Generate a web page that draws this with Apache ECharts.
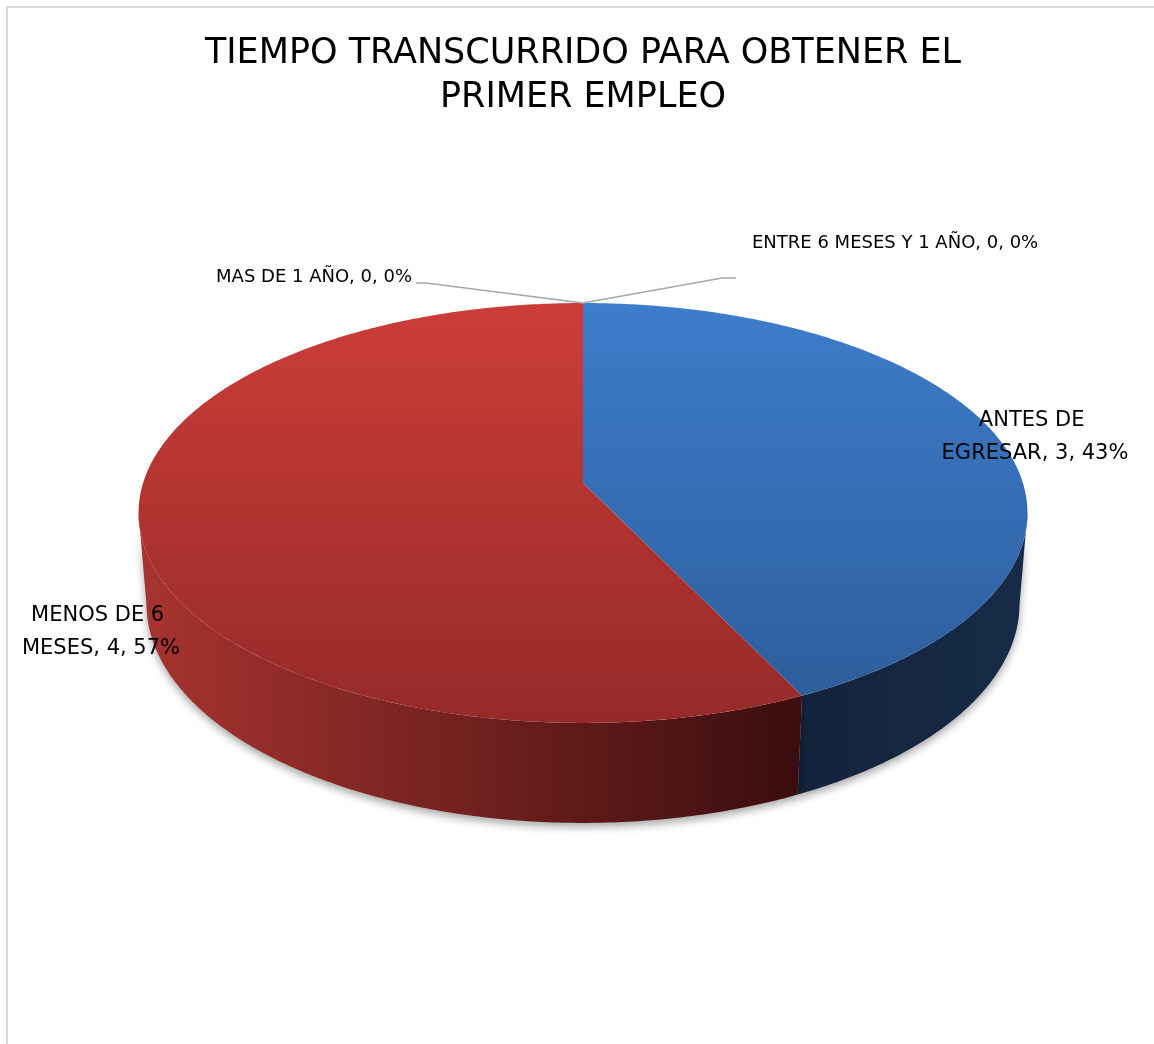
<!DOCTYPE html>
<html>
<head>
<meta charset="utf-8">
<script src="https://cdn.jsdelivr.net/npm/echarts@6/dist/echarts.min.js"></script>
<style>
html,body{margin:0;padding:0;background:#fff;}
#c{width:1154px;height:1044px;}
</style>
</head>
<body>
<div id="c"></div>
<script>
// ---- DATA ----
const titleText = 'TIEMPO TRANSCURRIDO PARA OBTENER EL\nPRIMER EMPLEO';
const categories = ['ANTES DE EGRESAR', 'MENOS DE 6 MESES', 'ENTRE 6 MESES Y 1 AÑO', 'MAS DE 1 AÑO'];
const values = [3, 4, 0, 0];

// ---- STYLE / LAYOUT ----
const topColors = [['#3d7dcb', '#2d5e9d'], ['#cc3d38', '#962a29'], ['#a5a5a5', '#8a8a8a'], ['#ffc000', '#d9a300']];
const wallColors = [['#13233b', '#172b48'], ['#a8342f', '#3a0d0e'], ['#666', '#444'], ['#b08400', '#7a5c00']];
const labelLayout = [
  {x: 1035, y: 437, align: 'center', size: 21, width: 200},
  {x: 101, y: 632, align: 'center', size: 21, width: 190},
  {x: 752, y: 243, align: 'left', size: 18, line: [[722, 278], [736, 278]]},
  {x: 412, y: 277, align: 'right', size: 18, line: [[426, 283], [416, 283]]}
];
const VIEW = {cx: 583, cy: 483, F: 2723, D: 6.19, s: 0.4675, thick: 0.236};
VIEW.c = Math.sqrt(1 - VIEW.s * VIEW.s);

const total = values.reduce((a, b) => a + b, 0);
const starts = [];
values.reduce((acc, v, i) => { starts[i] = acc; return acc + v; }, 0);

function proj(theta, H) {
  const X = Math.sin(theta), Z = Math.cos(theta);
  const d = -H * VIEW.s + Z * VIEW.c;
  const up = H * VIEW.c + Z * VIEW.s;
  return [VIEW.cx + VIEW.F * X / (VIEW.D + d), VIEW.cy - VIEW.F * up / (VIEW.D + d)];
}
function arc(a, b, H) {
  const n = Math.max(2, Math.ceil(Math.abs(b - a) / 0.01));
  const pts = [];
  for (let k = 0; k <= n; k++) pts.push(proj(a + (b - a) * k / n, H));
  return pts;
}
const silA = Math.acos(-VIEW.c / VIEW.D);
const silB = 2 * Math.PI - silA;

function renderItem(params, api) {
  const i = params.dataIndex;
  const v = api.value(0);
  const a = 2 * Math.PI * starts[i] / total;
  const b = a + 2 * Math.PI * v / total;
  const children = [];
  if (v > 0) {
    const wa = Math.max(a, silA), wb = Math.min(b, silB);
    if (wb > wa) {
      const top = arc(wa, wb, 0);
      const bot = arc(wa, wb, -VIEW.thick).reverse();
      children.push({
        type: 'polygon',
        shape: {points: top.concat(bot)},
        style: {
          fill: {type: 'linear', x: 0, y: 0, x2: 1, y2: 0, global: false,
            colorStops: [{offset: 0, color: wallColors[i][0]}, {offset: 1, color: wallColors[i][1]}]},
          shadowBlur: 8, shadowOffsetY: 4, shadowColor: 'rgba(0,0,0,0.35)'
        }
      });
    }
    const pts = [[VIEW.cx, VIEW.cy]].concat(arc(a, b, 0));
    children.push({
      type: 'polygon',
      shape: {points: pts},
      style: {
        fill: {type: 'linear', x: 0, y: 0, x2: 0, y2: 1, global: false,
          colorStops: [{offset: 0, color: topColors[i][0]}, {offset: 1, color: topColors[i][1]}]}
      }
    });
  }
  const L = labelLayout[i];
  const pct = Math.round(100 * v / total);
  const txt = categories[i] + ', ' + v + ', ' + pct + '%';
  if (L.line) {
    const p0 = proj(a, 0);
    children.push({
      type: 'polyline',
      shape: {points: [p0].concat(L.line)},
      style: {stroke: '#a6a6a6', lineWidth: 1.5, fill: null},
      z2: 10
    });
  }
  const ts = {
    text: txt, x: L.x, y: L.y, align: L.align, verticalAlign: 'middle',
    fill: '#000', font: 'normal ' + L.size + 'px "DejaVu Sans"', lineHeight: 33
  };
  if (L.width) { ts.width = L.width; ts.overflow = 'break'; }
  children.push({type: 'text', style: ts, z2: 20});
  return {type: 'group', children: children};
}

const chart = echarts.init(document.getElementById('c'), null, {renderer: 'canvas'});
chart.setOption({
  animation: false,
  backgroundColor: '#fff',
  title: {
    text: titleText, left: 583, top: 32, textAlign: 'center', padding: 0,
    textStyle: {fontFamily: 'DejaVu Sans', fontSize: 35, fontWeight: 'normal', color: '#000', lineHeight: 44}
  },
  graphic: [{
    type: 'polyline', shape: {points: [[7, 1044], [7, 7], [1154, 7]]},
    style: {stroke: '#d9d9d9', lineWidth: 2, fill: null}
  }],
  series: [{
    type: 'custom',
    coordinateSystem: 'none',
    renderItem: renderItem,
    dimensions: ['value'],
    data: values.map((v, i) => ({name: categories[i], value: [v]}))
  }]
});
</script>
</body>
</html>
